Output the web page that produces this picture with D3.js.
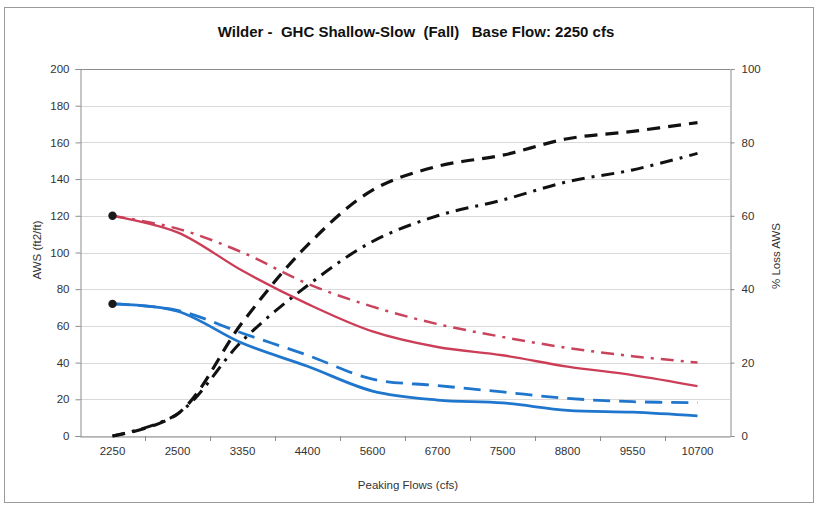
<!DOCTYPE html>
<html>
<head>
<meta charset="utf-8">
<script src="https://cdn.jsdelivr.net/npm/d3@7"></script>
<style>
  html, body { margin: 0; padding: 0; background: #fff; }
  svg { display: block; font-family: "Liberation Sans", Arial, sans-serif; }
</style>
</head>
<body>
<svg id="chart" width="818" height="507"></svg>
<script>
// ---- data ----
const categories = ["2250", "2500", "3350", "4400", "5600", "6700", "7500", "8800", "9550", "10700"];
const awsRedSolid    = [120, 111, 90, 72, 57, 48.5, 44, 37.8, 33.2, 27.2];
const awsRedDashDot  = [120, 113, 100, 83, 70.5, 61, 54, 48, 43.5, 40];
const awsBlueSolid   = [72, 68, 50.5, 38, 24.5, 19.6, 18, 14, 13, 11];
const awsBlueDashed  = [72, 68.5, 56, 44, 31, 27.5, 24, 20.5, 18.7, 18.2];
const lossBlackDashed  = [0, 6, 31, 52, 67, 73.5, 76.5, 81, 83, 85.4];
const lossBlackDashDot = [0, 6, 26, 41, 53, 60, 64.3, 69.3, 72.5, 77];
const leftTicks  = [0, 20, 40, 60, 80, 100, 120, 140, 160, 180, 200];
const rightTicks = [0, 20, 40, 60, 80, 100];

const svg = d3.select("#chart");
const L = 80, R = 730, T = 69, B = 436;

// frame
svg.append("rect").attr("x", 4.5).attr("y", 7.5).attr("width", 809).attr("height", 495)
  .attr("fill", "#fff").attr("stroke", "#9a9a9a").attr("stroke-width", 1);

const x = d3.scaleBand().domain(categories).range([L, R]).padding(0);
const yL = d3.scaleLinear().domain([0, 200]).range([B, T]);
const yR = d3.scaleLinear().domain([0, 100]).range([B, T]);
const cx = c => x(c) + x.bandwidth() / 2;

// gridlines
svg.append("g").selectAll("line").data(leftTicks).join("line")
  .attr("x1", L).attr("x2", R)
  .attr("y1", d => Math.round(yL(d)) + 0.5).attr("y2", d => Math.round(yL(d)) + 0.5)
  .attr("stroke", d => d === 200 ? "#8c8c8c" : "#d9d9d9").attr("stroke-width", 1);

// left axis
const gL = svg.append("g").attr("transform", `translate(${L + 0.5},0)`)
  .call(d3.axisLeft(yL).tickValues(leftTicks).tickSize(5).tickPadding(6));
gL.select(".domain").attr("stroke", "#8c8c8c");
gL.selectAll(".tick line").attr("stroke", "#8c8c8c");
gL.selectAll("text").attr("font-size", 11.5).attr("fill", "#333").attr("font-family", "Liberation Sans, Arial, sans-serif");

// right axis
const gR = svg.append("g").attr("transform", `translate(${R + 0.5},0)`)
  .call(d3.axisRight(yR).tickValues(rightTicks).tickSize(4).tickPadding(7));
gR.select(".domain").attr("stroke", "#8c8c8c");
gR.selectAll(".tick line").attr("stroke", "#8c8c8c");
gR.selectAll("text").attr("font-size", 11.5).attr("fill", "#333").attr("font-family", "Liberation Sans, Arial, sans-serif");

// bottom axis
const gB = svg.append("g").attr("transform", `translate(0,${B + 0.5})`)
  .call(d3.axisBottom(x).tickSize(0).tickPadding(10));
gB.select(".domain").attr("stroke", "#8c8c8c");
gB.selectAll("text").attr("font-size", 11.5).attr("fill", "#333").attr("font-family", "Liberation Sans, Arial, sans-serif");
// category boundary ticks
svg.append("g").selectAll("line").data(categories.slice(1)).join("line")
  .attr("x1", d => Math.round(x(d)) + 0.5).attr("x2", d => Math.round(x(d)) + 0.5)
  .attr("y1", B).attr("y2", B + 5).attr("stroke", "#8c8c8c");

// series
const curve = d3.curveCatmullRom.alpha(0.5);
const lineL = d3.line().x((d, i) => cx(categories[i])).y(d => yL(d)).curve(curve);
const lineR = d3.line().x((d, i) => cx(categories[i])).y(d => yR(d)).curve(curve);

const series = [
  { data: awsRedDashDot,  gen: lineL, color: "#c9435c", w: 2.5, dash: "13,7,3,7" },
  { data: awsBlueDashed,  gen: lineL, color: "#1f76cc", w: 2.8, dash: "17,9" },
  { data: lossBlackDashDot, gen: lineR, color: "#111", w: 3, dash: "13,7,3,7" },
  { data: lossBlackDashed,  gen: lineR, color: "#111", w: 3.2, dash: "13,8" },
  { data: awsRedSolid,    gen: lineL, color: "#cc3d57", w: 2.3, dash: null },
  { data: awsBlueSolid,   gen: lineL, color: "#1f76cc", w: 2.8, dash: null }
];
svg.append("g").selectAll("path").data(series).join("path")
  .attr("d", s => s.gen(s.data))
  .attr("fill", "none")
  .attr("stroke", s => s.color)
  .attr("stroke-width", s => s.w)
  .attr("stroke-dasharray", s => s.dash)
  .attr("stroke-linecap", "butt");

// start markers
svg.append("g").selectAll("circle").data([awsRedSolid[0], awsBlueSolid[0]]).join("circle")
  .attr("cx", cx(categories[0])).attr("cy", d => yL(d)).attr("r", 4.2)
  .attr("fill", "#1a1a1a");

// titles
svg.append("text").attr("x", 416).attr("y", 37).attr("text-anchor", "middle")
  .attr("font-size", 15).attr("font-weight", "bold").attr("fill", "#111")
  .attr("xml:space", "preserve")
  .text("Wilder -  GHC Shallow-Slow  (Fall)   Base Flow: 2250 cfs");

svg.append("text").attr("x", 408).attr("y", 489).attr("text-anchor", "middle")
  .attr("font-size", 11.5).attr("fill", "#333").text("Peaking Flows (cfs)");

svg.append("text").attr("transform", "translate(41,250) rotate(-90)").attr("text-anchor", "middle")
  .attr("font-size", 11.5).attr("fill", "#333").text("AWS (ft2/ft)");

svg.append("text").attr("transform", "translate(780,256) rotate(-90)").attr("text-anchor", "middle")
  .attr("font-size", 11.5).attr("fill", "#333").text("% Loss AWS");
</script>
</body>
</html>
